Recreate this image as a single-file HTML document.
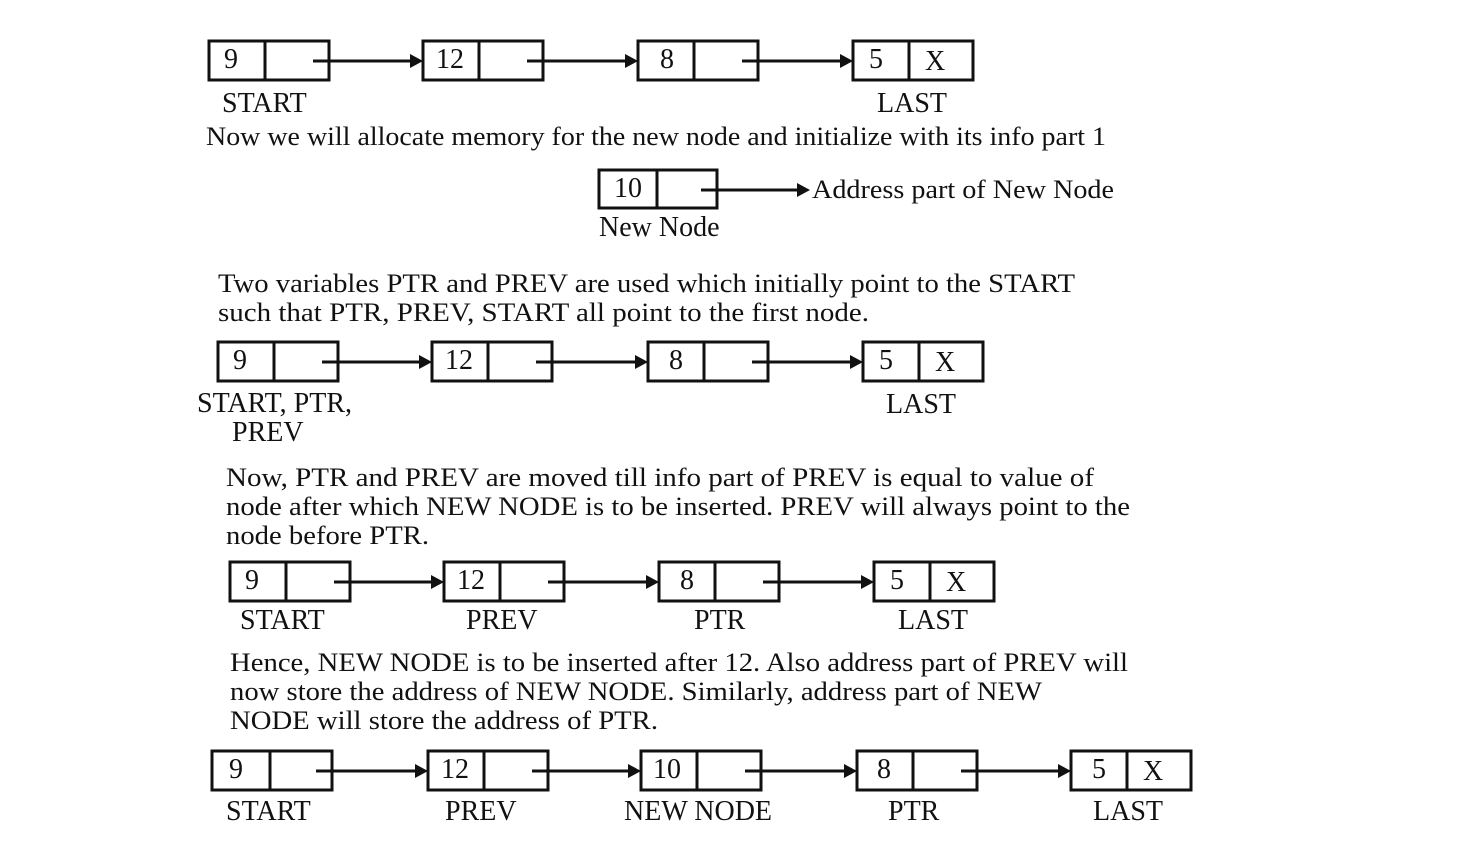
<!DOCTYPE html>
<html><head><meta charset="utf-8"><style>
html,body{margin:0;padding:0;background:#fff;}
svg{display:block;}
text{font-family:"Liberation Serif",serif;fill:#111;}
.n{font-size:28px;}
.t{font-size:26px;}
.l{font-size:28px;}
rect{fill:none;stroke:#111;stroke-width:3;}
line{stroke:#111;stroke-width:3;}
polygon{fill:#111;}
</style></head><body>
<svg width="1480" height="850" viewBox="0 0 1480 850">
<g>
<rect x="209" y="41" width="120" height="39"/><line x1="265" y1="41" x2="265" y2="80"/><text class="n" x="224" y="68">9</text>
<line x1="313" y1="61" x2="412" y2="61"/><polygon points="423,61 410,54 410,68"/>
<rect x="423" y="41" width="120" height="39"/><line x1="479" y1="41" x2="479" y2="80"/><text class="n" x="436" y="68">12</text>
<line x1="527" y1="61" x2="627" y2="61"/><polygon points="638,61 625,54 625,68"/>
<rect x="638" y="41" width="120" height="39"/><line x1="694" y1="41" x2="694" y2="80"/><text class="n" x="660" y="68">8</text>
<line x1="742" y1="61" x2="842" y2="61"/><polygon points="853,61 840,54 840,68"/>
<rect x="853" y="41" width="120" height="39"/><line x1="909" y1="41" x2="909" y2="80"/><text class="n" x="869" y="68">5</text><text class="n" x="925" y="70">X</text>
<text class="l" x="222" y="112">START</text><text class="l" x="877" y="112">LAST</text>
<text class="t" x="206" y="145" textLength="900" lengthAdjust="spacingAndGlyphs">Now we will allocate memory for the new node and initialize with its info part 1</text>
</g>
<rect x="599" y="170" width="118" height="38"/><line x1="657" y1="170" x2="657" y2="208"/><text class="n" x="614" y="197">10</text>
<line x1="701" y1="190" x2="798" y2="190"/><polygon points="810,190 797,183 797,197"/>
<text class="t" x="812" y="198" textLength="302" lengthAdjust="spacingAndGlyphs">Address part of New Node</text>
<text class="l" x="599" y="236">New Node</text>
<text class="t" x="218" y="292" textLength="857" lengthAdjust="spacingAndGlyphs">Two variables PTR and PREV are used which initially point to the START</text>
<text class="t" x="218" y="321" textLength="651" lengthAdjust="spacingAndGlyphs">such that PTR, PREV, START all point to the first node.</text>
<rect x="218" y="342" width="120" height="39"/><line x1="274" y1="342" x2="274" y2="381"/><text class="n" x="233" y="369">9</text>
<line x1="322" y1="362" x2="421" y2="362"/><polygon points="432,362 419,355 419,369"/>
<rect x="432" y="342" width="120" height="39"/><line x1="488" y1="342" x2="488" y2="381"/><text class="n" x="445" y="369">12</text>
<line x1="536" y1="362" x2="637" y2="362"/><polygon points="648,362 635,355 635,369"/>
<rect x="648" y="342" width="120" height="39"/><line x1="704" y1="342" x2="704" y2="381"/><text class="n" x="669" y="369">8</text>
<line x1="752" y1="362" x2="852" y2="362"/><polygon points="863,362 850,355 850,369"/>
<rect x="863" y="342" width="120" height="39"/><line x1="919" y1="342" x2="919" y2="381"/><text class="n" x="879" y="369">5</text><text class="n" x="935" y="371">X</text>
<text class="l" x="197" y="412">START, PTR,</text><text class="l" x="232" y="441">PREV</text><text class="l" x="886" y="413">LAST</text>
<text class="t" x="226" y="486" textLength="868" lengthAdjust="spacingAndGlyphs">Now, PTR and PREV are moved till info part of PREV is equal to value of</text>
<text class="t" x="226" y="515" textLength="904" lengthAdjust="spacingAndGlyphs">node after which NEW NODE is to be inserted. PREV will always point to the</text>
<text class="t" x="226" y="544" textLength="203" lengthAdjust="spacingAndGlyphs">node before PTR.</text>
<rect x="230" y="562" width="120" height="39"/><line x1="286" y1="562" x2="286" y2="601"/><text class="n" x="245" y="589">9</text>
<line x1="334" y1="582" x2="433" y2="582"/><polygon points="444,582 431,575 431,589"/>
<rect x="444" y="562" width="120" height="39"/><line x1="500" y1="562" x2="500" y2="601"/><text class="n" x="457" y="589">12</text>
<line x1="548" y1="582" x2="648" y2="582"/><polygon points="659,582 646,575 646,589"/>
<rect x="659" y="562" width="120" height="39"/><line x1="715" y1="562" x2="715" y2="601"/><text class="n" x="680" y="589">8</text>
<line x1="763" y1="582" x2="863" y2="582"/><polygon points="874,582 861,575 861,589"/>
<rect x="874" y="562" width="120" height="39"/><line x1="930" y1="562" x2="930" y2="601"/><text class="n" x="890" y="589">5</text><text class="n" x="946" y="591">X</text>
<text class="l" x="240" y="629">START</text><text class="l" x="466" y="629">PREV</text><text class="l" x="694" y="629">PTR</text><text class="l" x="898" y="629">LAST</text>
<text class="t" x="230" y="671" textLength="898" lengthAdjust="spacingAndGlyphs">Hence, NEW NODE is to be inserted after 12. Also address part of PREV will</text>
<text class="t" x="230" y="700" textLength="812" lengthAdjust="spacingAndGlyphs">now store the address of NEW NODE. Similarly, address part of NEW</text>
<text class="t" x="230" y="729" textLength="428" lengthAdjust="spacingAndGlyphs">NODE will store the address of PTR.</text>
<rect x="212" y="751" width="120" height="39"/><line x1="270" y1="751" x2="270" y2="790"/><text class="n" x="229" y="778">9</text>
<line x1="316" y1="771" x2="417" y2="771"/><polygon points="428,771 415,764 415,778"/>
<rect x="428" y="751" width="120" height="39"/><line x1="484" y1="751" x2="484" y2="790"/><text class="n" x="441" y="778">12</text>
<line x1="532" y1="771" x2="630" y2="771"/><polygon points="641,771 628,764 628,778"/>
<rect x="641" y="751" width="120" height="39"/><line x1="697" y1="751" x2="697" y2="790"/><text class="n" x="653" y="778">10</text>
<line x1="745" y1="771" x2="846" y2="771"/><polygon points="857,771 844,764 844,778"/>
<rect x="857" y="751" width="120" height="39"/><line x1="913" y1="751" x2="913" y2="790"/><text class="n" x="877" y="778">8</text>
<line x1="961" y1="771" x2="1060" y2="771"/><polygon points="1071,771 1058,764 1058,778"/>
<rect x="1071" y="751" width="120" height="39"/><line x1="1127" y1="751" x2="1127" y2="790"/><text class="n" x="1092" y="778">5</text><text class="n" x="1143" y="780">X</text>
<text class="l" x="226" y="820">START</text><text class="l" x="445" y="820">PREV</text><text class="l" x="624" y="820">NEW NODE</text><text class="l" x="888" y="820">PTR</text><text class="l" x="1093" y="820">LAST</text>
</svg>
</body></html>
